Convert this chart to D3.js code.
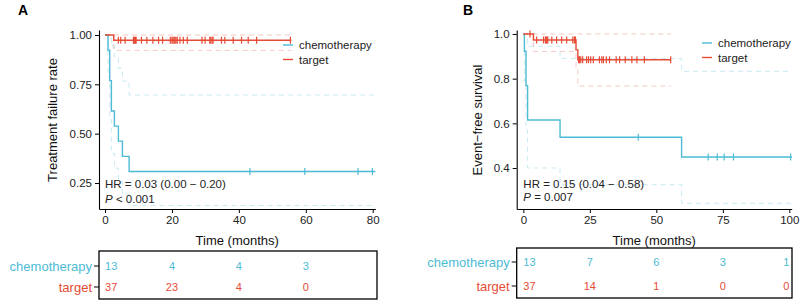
<!DOCTYPE html>
<html>
<head>
<meta charset="utf-8">
<script src="https://cdn.jsdelivr.net/npm/d3@7"></script>
<style>
  body { margin: 0; background: #fff; }
  text { font-family: "Liberation Sans", Arial, sans-serif; }
</style>
</head>
<body>
<svg id="chart" width="800" height="303"></svg>
<script>
const teal = '#4DBBD5';
const red = '#E64B35';

// ---- panel A: treatment failure rate ----
const chemoA_time = [0, 0.9, 1.4, 1.9, 2.8, 4.0, 5.2, 7.2];
const chemoA_surv = [1, 0.923, 0.769, 0.615, 0.538, 0.462, 0.385, 0.308];
const chemoA_upper = [1, 1, 1, 0.945, 0.89, 0.831, 0.766, 0.696];
const chemoA_lower = [1, 0.789, 0.571, 0.40, 0.325, 0.257, 0.193, 0.136];
const chemoA_censor = [43.3, 59.7, 75.6, 79.9];
const chemoA_end = 80.8;

const targetA_time = [0, 2.6];
const targetA_surv = [1, 0.973];
const targetA_upper = [1, 1];
const targetA_lower = [1, 0.922];
const targetA_censor = [4.0, 4.7, 6.0, 8.5, 8.8, 9.1, 9.3, 10.9, 12.5, 14.3, 16.0, 17.2, 19.5,
  20.0, 20.3, 20.6, 20.9, 21.2, 21.6, 22.4, 23.4, 24.6, 29.0, 29.9, 31.3, 31.6, 32.0, 32.3,
  34.8, 35.8, 38.3, 40.8, 42.8, 45.3, 55.4];
const targetA_end = 55.7;

const riskA_times = [0, 20, 40, 60];
const riskA_chemo = [13, 4, 4, 3];
const riskA_target = [37, 23, 4, 0];

// ---- panel B: event-free survival ----
const chemoB_time = [0, 0.4, 1.0, 1.6, 13.8, 59.5];
const chemoB_surv = [1, 0.923, 0.769, 0.615, 0.538, 0.449];
const chemoB_upper = [1, 1, 1, 0.945, 0.89, 0.833];
const chemoB_lower = [1, 0.789, 0.571, 0.40, 0.325, 0.242];
const chemoB_censor = [43.2, 69.5, 72.9, 75.5, 79.0, 100.5];
const chemoB_end = 101;

const targetB_time = [0, 3.8, 19.8, 20.5];
const targetB_surv = [1, 0.973, 0.929, 0.885];
const targetB_upper = [1, 1, 1, 1];
const targetB_lower = [1, 0.922, 0.84, 0.767];
const targetB_censor = [2.5, 5.0, 7.6, 8.3, 8.6, 8.9, 9.2, 10.7, 12.5, 14.4, 16.3, 18.6, 19.2, 19.6,
  20.8, 21.1, 21.6, 22.3, 23.8, 24.5, 25.3, 26.3, 28.6, 29.5, 30.1, 31.2, 32.4, 34.9, 36.2,
  38.3, 40.8, 42.7, 45.5, 55.4];
const targetB_end = 55.5;

const riskB_times = [0, 25, 50, 75, 100];
const riskB_chemo = [13, 7, 6, 3, 1];
const riskB_target = [37, 14, 1, 0, 0];

const svg = d3.select('#chart');

function stepPoints(times, vals, end) {
  const pts = times.map((t, i) => [t, vals[i]]);
  pts.push([end, vals[vals.length - 1]]);
  return pts;
}

function survAt(times, vals, t) {
  let v = vals[0];
  times.forEach((tt, i) => { if (tt <= t) v = vals[i]; });
  return v;
}

function drawPanel(cfg) {
  const g = svg.append('g');
  const x = d3.scaleLinear().domain(cfg.xDomain).range(cfg.xRange);
  const y = d3.scaleLinear().domain(cfg.yDomain).range([209, 30]);
  const line = d3.line().x(d => x(d[0])).y(d => y(d[1])).curve(d3.curveStepAfter);

  const clipId = 'clip' + cfg.id;
  g.append('clipPath').attr('id', clipId).append('rect')
    .attr('x', cfg.xRange[0]).attr('y', 28)
    .attr('width', cfg.xRange[1] - cfg.xRange[0] + 4).attr('height', 181);
  const plot = g.append('g').attr('clip-path', `url(#${clipId})`);

  // confidence bands (dashed)
  cfg.curves.forEach(c => {
    [c.upper, c.lower].forEach(band => {
      plot.append('path')
        .attr('d', line(stepPoints(c.time, band, c.end)))
        .attr('fill', 'none')
        .attr('stroke', c.color)
        .attr('stroke-opacity', 0.3)
        .attr('stroke-width', 1)
        .attr('stroke-dasharray', '5,4');
    });
  });

  // survival steps + censor ticks
  cfg.curves.forEach(c => {
    plot.append('path')
      .attr('d', line(stepPoints(c.time, c.surv, c.end)))
      .attr('fill', 'none')
      .attr('stroke', c.color)
      .attr('stroke-width', 1.4);
    plot.selectAll(null).data(c.censor).enter().append('line')
      .attr('x1', d => x(d)).attr('x2', d => x(d))
      .attr('y1', d => y(survAt(c.time, c.surv, d)) - 3.5)
      .attr('y2', d => y(survAt(c.time, c.surv, d)) + 3.5)
      .attr('stroke', c.color)
      .attr('stroke-width', 1.2);
  });

  // axes
  const yAxis = g.append('g').attr('transform', `translate(${cfg.xRange[0]},0)`)
    .call(d3.axisLeft(y).tickValues(cfg.yTicks).tickFormat(d3.format(cfg.yFormat))
      .tickSize(4).tickSizeOuter(0).tickPadding(3));
  const xAxis = g.append('g').attr('transform', 'translate(0,209)')
    .call(d3.axisBottom(x).tickValues(cfg.xTicks).tickSize(4).tickSizeOuter(0).tickPadding(3));
  [yAxis, xAxis].forEach(a => {
    a.select('.domain').attr('stroke', '#000').attr('stroke-width', 1.1);
    a.selectAll('.tick line').attr('stroke', '#000');
    a.selectAll('.tick text').attr('fill', '#222').style('font-size', '11.5px');
  });

  g.append('text')
    .attr('transform', `translate(${cfg.yTitleX},120) rotate(-90)`)
    .attr('text-anchor', 'middle')
    .style('font-size', '13px')
    .attr('fill', '#111')
    .text(cfg.yTitle);
  g.append('text')
    .attr('x', (cfg.xRange[0] + cfg.xRange[1]) / 2).attr('y', 245)
    .attr('text-anchor', 'middle')
    .style('font-size', '13px')
    .attr('fill', '#111')
    .text('Time (months)');

  // panel letter
  g.append('text').attr('x', cfg.letterX).attr('y', 15)
    .style('font-size', '14px').style('font-weight', 'bold')
    .text(cfg.letter);

  // legend
  cfg.curves.forEach((c, i) => {
    const ly = cfg.legendY + i * 14.5;
    g.append('line').attr('x1', cfg.legendX).attr('x2', cfg.legendX + 10)
      .attr('y1', ly).attr('y2', ly).attr('stroke', c.color).attr('stroke-width', 1.4);
    g.append('text').attr('x', cfg.legendX + 16).attr('y', ly + 4)
      .style('font-size', '11.5px').attr('fill', '#222').text(c.name);
  });

  // HR and P text
  g.append('text').attr('x', x(0)).attr('y', 188)
    .style('font-size', '11.5px').attr('fill', '#222').text(cfg.hr);
  const p = g.append('text').attr('x', x(0)).attr('y', cfg.pY)
    .style('font-size', '11.5px').attr('fill', '#222');
  p.append('tspan').style('font-style', 'italic').text('P');
  p.append('tspan').text(cfg.p);

  // risk table
  const tb = cfg.table;
  g.append('rect').attr('x', cfg.xRange[0]).attr('y', tb.top)
    .attr('width', tb.right - cfg.xRange[0]).attr('height', tb.bottom - tb.top)
    .attr('fill', 'none').attr('stroke', '#000').attr('stroke-width', 1.3);
  cfg.curves.forEach((c, i) => {
    const ry = tb.rows[i];
    g.append('line').attr('x1', cfg.xRange[0] - 5).attr('x2', cfg.xRange[0])
      .attr('y1', ry).attr('y2', ry).attr('stroke', '#000');
    g.append('text').attr('x', cfg.xRange[0] - 7).attr('y', ry + 4.5)
      .attr('text-anchor', 'end').style('font-size', '13px')
      .attr('fill', c.color).text(c.name);
    g.selectAll(null).data(tb.times).enter().append('text')
      .attr('x', (d, j) => x(d) + (j === 0 ? 0 : (d === cfg.xTicks[cfg.xTicks.length - 1] ? 0 : 0)))
      .attr('y', ry + 4)
      .attr('text-anchor', (d, j) => j === 0 ? 'start' : (d === cfg.xTicks[cfg.xTicks.length - 1] ? 'end' : 'middle'))
      .style('font-size', '11px')
      .attr('fill', c.color)
      .text((d, j) => c.risk[j]);
  });
}

drawPanel({
  id: 'A', letter: 'A', letterX: 18,
  xDomain: [-1.8, 80.8], xRange: [99, 375.4],
  yDomain: [0.1182, 1.0253],
  xTicks: [0, 20, 40, 60, 80], yTicks: [0.25, 0.5, 0.75, 1.0], yFormat: '.2f',
  yTitle: 'Treatment failure rate', yTitleX: 57,
  legendX: 283, legendY: 45,
  hr: 'HR = 0.03 (0.00 \u2212 0.20)', p: ' < 0.001', pY: 203,
  curves: [
    { name: 'chemotherapy', color: teal, time: chemoA_time, surv: chemoA_surv,
      upper: chemoA_upper, lower: chemoA_lower, censor: chemoA_censor, end: chemoA_end, risk: riskA_chemo },
    { name: 'target', color: red, time: targetA_time, surv: targetA_surv,
      upper: targetA_upper, lower: targetA_lower, censor: targetA_censor, end: targetA_end, risk: riskA_target }
  ],
  table: { times: riskA_times, top: 251, bottom: 299, right: 377, rows: [266, 287] }
});

drawPanel({
  id: 'B', letter: 'B', letterX: 463,
  xDomain: [-2.5, 100.9], xRange: [516.7, 791.7],
  yDomain: [0.2164, 1.0179],
  xTicks: [0, 25, 50, 75, 100], yTicks: [0.4, 0.6, 0.8, 1.0], yFormat: '.1f',
  yTitle: 'Event\u2212free survival', yTitleX: 482,
  legendX: 702, legendY: 43,
  hr: 'HR = 0.15 (0.04 \u2212 0.58)', p: ' = 0.007', pY: 201,
  curves: [
    { name: 'chemotherapy', color: teal, time: chemoB_time, surv: chemoB_surv,
      upper: chemoB_upper, lower: chemoB_lower, censor: chemoB_censor, end: chemoB_end, risk: riskB_chemo },
    { name: 'target', color: red, time: targetB_time, surv: targetB_surv,
      upper: targetB_upper, lower: targetB_lower, censor: targetB_censor, end: targetB_end, risk: riskB_target }
  ],
  table: { times: riskB_times, top: 248, bottom: 298, right: 792, rows: [262, 286] }
});
</script>
</body>
</html>
